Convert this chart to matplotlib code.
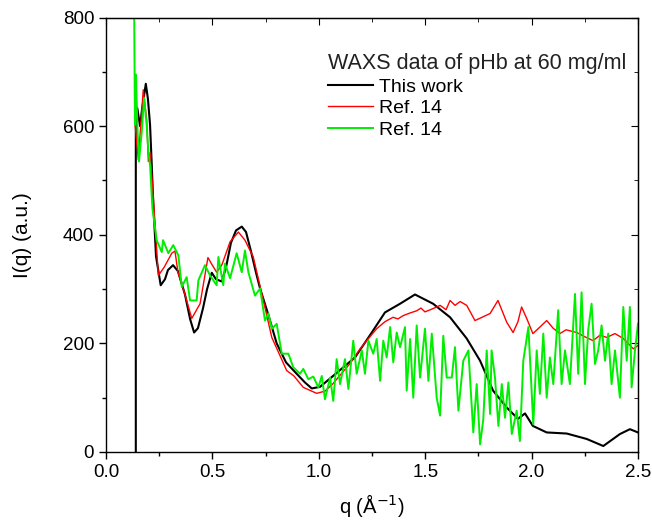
import matplotlib
matplotlib.use("Agg")
import matplotlib.pyplot as plt
from matplotlib.ticker import MultipleLocator

plt.rcParams["font.family"] = ["Liberation Sans", "DejaVu Sans"]

# "This work" curve (black)
q_black = [0.140, 0.140, 0.147, 0.160, 0.169, 0.187, 0.197, 0.207, 0.215, 0.222,
           0.235, 0.257, 0.277, 0.291, 0.315, 0.338, 0.371, 0.395, 0.414, 0.432,
           0.456, 0.475, 0.497, 0.517, 0.544, 0.564, 0.587, 0.611, 0.638, 0.658,
           0.681, 0.705, 0.724, 0.761, 0.802, 0.846, 0.896, 0.935, 0.967, 1.006,
           1.067, 1.170, 1.249, 1.311, 1.382, 1.452, 1.537, 1.617, 1.695, 1.758,
           1.819, 1.883, 1.936, 1.969, 2.006, 2.071, 2.165, 2.259, 2.337, 2.415,
           2.462, 2.500]
i_black = [0, 636, 633, 600, 630, 678, 650, 602, 528, 460,
           360, 307, 318, 335, 344, 333, 290, 245, 220, 228,
           265, 300, 330, 318, 314, 340, 385, 408, 415, 405,
           370, 330, 301, 255, 200, 165, 144, 128, 117, 120,
           140, 174, 220, 257, 273, 290, 273, 248, 209, 168,
           113, 82, 61, 71, 48, 36, 34, 24, 11, 33,
           42, 36]

# Ref. 14 (red)
q_red = [0.136, 0.152, 0.175, 0.191, 0.199, 0.207, 0.222, 0.246, 0.273, 0.309,
         0.324, 0.338, 0.371, 0.403, 0.442, 0.479, 0.498, 0.520, 0.545, 0.583,
         0.622, 0.653, 0.692, 0.733, 0.779, 0.849, 0.883, 0.927, 0.990, 1.029,
         1.067, 1.147, 1.194, 1.225, 1.272, 1.311, 1.349, 1.372, 1.396, 1.429,
         1.460, 1.480, 1.499, 1.537, 1.570, 1.598, 1.617, 1.640, 1.664, 1.695,
         1.734, 1.767, 1.805, 1.842, 1.883, 1.913, 1.936, 1.953, 1.978, 2.006,
         2.039, 2.071, 2.101, 2.133, 2.162, 2.212, 2.251, 2.289, 2.321, 2.353,
         2.392, 2.431, 2.478, 2.500]
i_red = [606, 538, 667, 612, 535, 551, 470, 325, 340, 366,
         370, 331, 290, 246, 273, 358, 345, 331, 345, 387,
         405, 390, 359, 290, 211, 150, 140, 119, 108, 112,
         126, 163, 190, 205, 227, 240, 248, 245, 251, 256,
         260, 265, 258, 264, 270, 262, 279, 270, 277, 270,
         242, 248, 255, 279, 239, 220, 240, 267, 245, 218,
         230, 242, 228, 218, 225, 220, 212, 205, 215, 211,
         218, 209, 190, 196]

# Ref. 14 (green)
q_green = [0.132, 0.136, 0.141, 0.147, 0.155, 0.168, 0.179, 0.191, 0.199, 0.207,
           0.218, 0.238, 0.262, 0.268, 0.293, 0.316, 0.340, 0.356, 0.379, 0.395,
           0.426, 0.434, 0.465, 0.489, 0.520, 0.528, 0.551, 0.559, 0.583, 0.614,
           0.638, 0.653, 0.669, 0.700, 0.724, 0.747, 0.763, 0.779, 0.802, 0.826,
           0.857, 0.880, 0.912, 0.927, 0.951, 0.974, 0.998, 1.014, 1.029, 1.053,
           1.068, 1.084, 1.100, 1.123, 1.139, 1.162, 1.178, 1.202, 1.217, 1.233,
           1.256, 1.272, 1.288, 1.303, 1.319, 1.335, 1.350, 1.366, 1.382, 1.405,
           1.413, 1.429, 1.444, 1.460, 1.476, 1.499, 1.515, 1.531, 1.554, 1.570,
           1.585, 1.601, 1.625, 1.640, 1.656, 1.679, 1.703, 1.726, 1.742, 1.758,
           1.773, 1.789, 1.805, 1.812, 1.828, 1.844, 1.860, 1.875, 1.891, 1.907,
           1.930, 1.945, 1.961, 1.985, 2.008, 2.024, 2.039, 2.055, 2.071, 2.086,
           2.102, 2.125, 2.141, 2.157, 2.180, 2.204, 2.219, 2.235, 2.251, 2.266,
           2.282, 2.298, 2.313, 2.329, 2.345, 2.360, 2.376, 2.392, 2.415, 2.431,
           2.447, 2.462, 2.470, 2.486, 2.500]
i_green = [830, 602, 695, 602, 535, 590, 652, 602, 553, 528,
           449, 390, 368, 390, 366, 381, 362, 304, 322, 279,
           279, 316, 344, 325, 307, 359, 307, 347, 320, 366,
           331, 371, 331, 288, 301, 242, 255, 227, 236, 181,
           181, 156, 144, 153, 134, 139, 119, 140, 97, 137,
           94, 171, 125, 171, 116, 205, 144, 187, 144, 205,
           181, 208, 131, 205, 174, 230, 165, 220, 193, 230,
           113, 208, 100, 233, 137, 227, 131, 218, 100, 67,
           214, 137, 137, 193, 76, 168, 187, 36, 125, 14,
           60, 187, 70, 187, 137, 48, 125, 63, 128, 33,
           76, 20, 168, 230, 51, 187, 107, 218, 100, 174,
           125, 261, 125, 187, 125, 291, 144, 294, 125, 224,
           273, 162, 187, 233, 168, 218, 125, 187, 100, 267,
           168, 267, 119, 187, 236]

legend_title = "WAXS data of pHb at 60 mg/ml"
labels = ["This work", "Ref. 14", "Ref. 14"]

fig = plt.figure(figsize=(6.52, 5.26), dpi=100)
ax = fig.add_axes([0.1626, 0.1407, 0.8159, 0.826])

ax.plot(q_black, i_black, color="black", lw=1.5, label=labels[0])
ax.plot(q_red, i_red, color="#ff0000", lw=1.0, label=labels[1])
ax.plot(q_green, i_green, color="#00ee00", lw=1.4, label=labels[2])

ax.set_xlim(0, 2.5)
ax.set_ylim(0, 800)
ax.xaxis.set_major_locator(MultipleLocator(0.5))
ax.xaxis.set_minor_locator(MultipleLocator(0.25))
ax.yaxis.set_major_locator(MultipleLocator(200))
ax.yaxis.set_minor_locator(MultipleLocator(100))
ax.set_xticklabels([f"{v:.1f}" for v in ax.get_xticks()])
ax.tick_params(which="major", direction="out", length=5, width=1, labelsize=13.5)
ax.tick_params(which="minor", direction="out", length=3, width=1)
for s in ax.spines.values():
    s.set_linewidth(1.0)

# mirrored ticks on top and right, pointing inwards
top = ax.secondary_xaxis("top")
top.xaxis.set_major_locator(MultipleLocator(0.5))
top.xaxis.set_minor_locator(MultipleLocator(0.25))
top.tick_params(which="major", direction="in", length=5, labeltop=False)
top.tick_params(which="minor", direction="in", length=3)
right = ax.secondary_yaxis("right")
right.yaxis.set_major_locator(MultipleLocator(200))
right.yaxis.set_minor_locator(MultipleLocator(100))
right.tick_params(which="major", direction="in", length=5, labelright=False)
right.tick_params(which="minor", direction="in", length=3)

ax.set_xlabel("q (Å$^{-1}$)", fontsize=14.5, labelpad=8)
ax.set_ylabel("I(q) (a.u.)", fontsize=15, labelpad=22)

leg = ax.legend(title=legend_title, frameon=False, fontsize=14,
                title_fontsize=15.5, loc="upper left",
                bbox_to_anchor=(0.417, 0.918), borderpad=0, borderaxespad=0,
                handlelength=2.3, labelspacing=0.2, handletextpad=0.35,
                alignment="left")
leg.get_title().set_color("#222222")

fig.savefig("out.png", dpi=100)
